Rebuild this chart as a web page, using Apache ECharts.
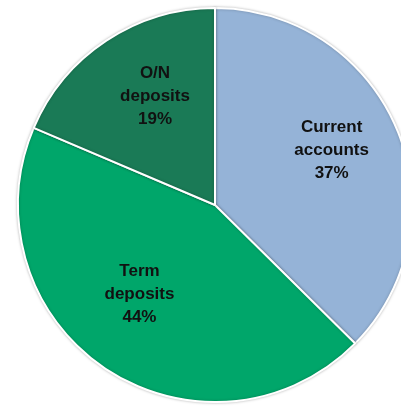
<!DOCTYPE html>
<html><head><meta charset="utf-8">
<script src="https://cdn.jsdelivr.net/npm/echarts@6/dist/echarts.min.js"></script>
<style>html,body{margin:0;padding:0;background:#fff}#c{width:401px;height:407px}</style>
</head><body><div id="c"></div>
<script>
const categories = ['Current\naccounts', 'Term\ndeposits', 'O/N\ndeposits'];
const values = [37.4, 44.0, 18.6];
const colors = ['#95B3D7', '#00A66A', '#1A7A56'];
const labelOffsets = [[23, -16], [-19, 5], [-4, -24]];

const chart = echarts.init(document.getElementById('c'), null, {renderer: 'canvas'});
chart.setOption({
  animation: false,
  series: [{
    type: 'pie',
    center: [215, 205],
    radius: 197,
    startAngle: 90,
    clockwise: true,
    avoidLabelOverlap: false,
    itemStyle: {borderColor: '#fff', borderWidth: 2, shadowBlur: 3, shadowColor: 'rgba(0,0,0,0.25)'},
    label: {
      show: true, position: 'inside',
      formatter: p => p.name + '\n' + Math.round(p.value) + '%',
      fontFamily: 'Liberation Sans', fontWeight: 'bold', fontSize: 17,
      lineHeight: 23, color: '#111', align: 'center'
    },
    labelLine: {show: false},
    data: categories.map((c, i) => ({
      name: c, value: values[i],
      itemStyle: {color: colors[i]},
      label: {offset: labelOffsets[i]}
    }))
  }]
});
</script></body></html>
